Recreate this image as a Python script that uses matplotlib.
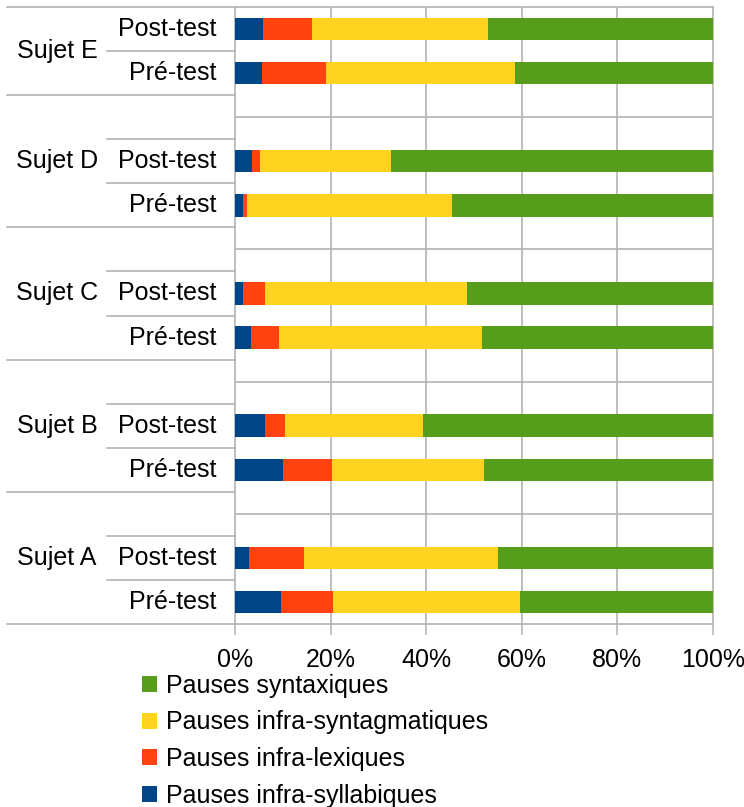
import matplotlib
matplotlib.use("Agg")
import matplotlib.pyplot as plt
from matplotlib.lines import Line2D
import numpy as np

plt.rcParams['font.family'] = ['Liberation Sans', 'DejaVu Sans']

subjects = ["Sujet A", "Sujet B", "Sujet C", "Sujet D", "Sujet E"]
tests = ["Pré-test", "Post-test"]
series_names = ["Pauses infra-syllabiques", "Pauses infra-lexiques",
                "Pauses infra-syntagmatiques", "Pauses syntaxiques"]
colors = ["#004586", "#ff420e", "#ffd320", "#579d1c"]

# percentages per bar: order A Pré, A Post, B Pré, B Post, ... E Post
infra_syllabiques = [9.6, 2.9, 10.0, 6.3, 3.3, 1.7, 1.7, 3.6, 5.6, 5.9]
infra_lexiques = [10.9, 11.5, 10.3, 4.2, 5.9, 4.6, 0.8, 1.6, 13.4, 10.2]
infra_syntagmatiques = [39.1, 40.6, 31.8, 28.8, 42.5, 42.2, 42.9, 27.4, 39.6, 36.8]
syntaxiques = [40.4, 45.0, 47.9, 60.7, 48.3, 51.5, 54.6, 67.4, 41.4, 47.1]

values = np.array([infra_syllabiques, infra_lexiques, infra_syntagmatiques, syntaxiques])
values = values / values.sum(axis=0) * 100

# slot positions: each subject occupies 3 slots (Pré, Post, empty), last one 2
positions = []
for i in range(len(subjects)):
    positions += [3 * i, 3 * i + 1]
positions = np.array(positions)

W, H = 744, 807
fig = plt.figure(figsize=(W / 100, H / 100), dpi=100)
L, R, T, B = 235, 713, 7, 624
ax = fig.add_axes([L / W, 1 - B / H, (R - L) / W, (B - T) / H])

grid_c = "#b3b3b3"
left = np.zeros(len(positions))
handles = []
for k in range(4):
    bars = ax.barh(positions, values[k], left=left, height=0.51, color=colors[k],
                   zorder=3, label=series_names[k])
    handles.append(bars)
    left += values[k]

ax.set_xlim(0, 100)
ax.set_ylim(-0.5, 13.5)
ax.set_xticks([0, 20, 40, 60, 80, 100])
ax.set_xticklabels(["0%", "20%", "40%", "60%", "80%", "100%"], fontsize=18)
ax.tick_params(axis='x', direction='out', length=8, width=1.1, color=grid_c, pad=9)
ax.set_yticks([])
for x in [20, 40, 60, 80]:
    ax.axvline(x, color=grid_c, lw=1.2, zorder=0)
for y in [2, 5, 8, 11]:
    ax.axhline(y, color=grid_c, lw=1.2, zorder=0)
for s in ax.spines.values():
    s.set_color(grid_c)
    s.set_linewidth(1.2)

trans = ax.get_yaxis_transform()
x_full = (7 - L) / (R - L)
x_short = (107 - L) / (R - L)
for y in [-0.5, 2.5, 5.5, 8.5, 11.5, 13.5]:
    ax.add_line(Line2D([x_full, 0], [y, y], transform=trans, color=grid_c, lw=1.2, clip_on=False))
for y in [0.5, 1.5, 3.5, 4.5, 6.5, 7.5, 9.5, 10.5, 12.5]:
    ax.add_line(Line2D([x_short, 0], [y, y], transform=trans, color=grid_c, lw=1.2, clip_on=False))

x_inner = (216 - L) / (R - L)
x_group = (57 - L) / (R - L)
for i, subj in enumerate(subjects):
    for j, t in enumerate(tests):
        ax.text(x_inner, 3 * i + j, t, transform=trans, ha='right', va='center', fontsize=18)
    gy = 3 * i + 1 if i < len(subjects) - 1 else 3 * i + 0.5
    ax.text(x_group, gy, subj, transform=trans, ha='center', va='center', fontsize=18)

fig.legend(handles[::-1], series_names[::-1], loc='upper left',
           bbox_to_anchor=(142 / W, 1 - 674 / H), frameon=False, fontsize=18,
           handlelength=0.6, handleheight=0.6, handletextpad=0.35,
           labelspacing=0.5, borderpad=0, borderaxespad=0)

fig.savefig("out.png", dpi=100)
